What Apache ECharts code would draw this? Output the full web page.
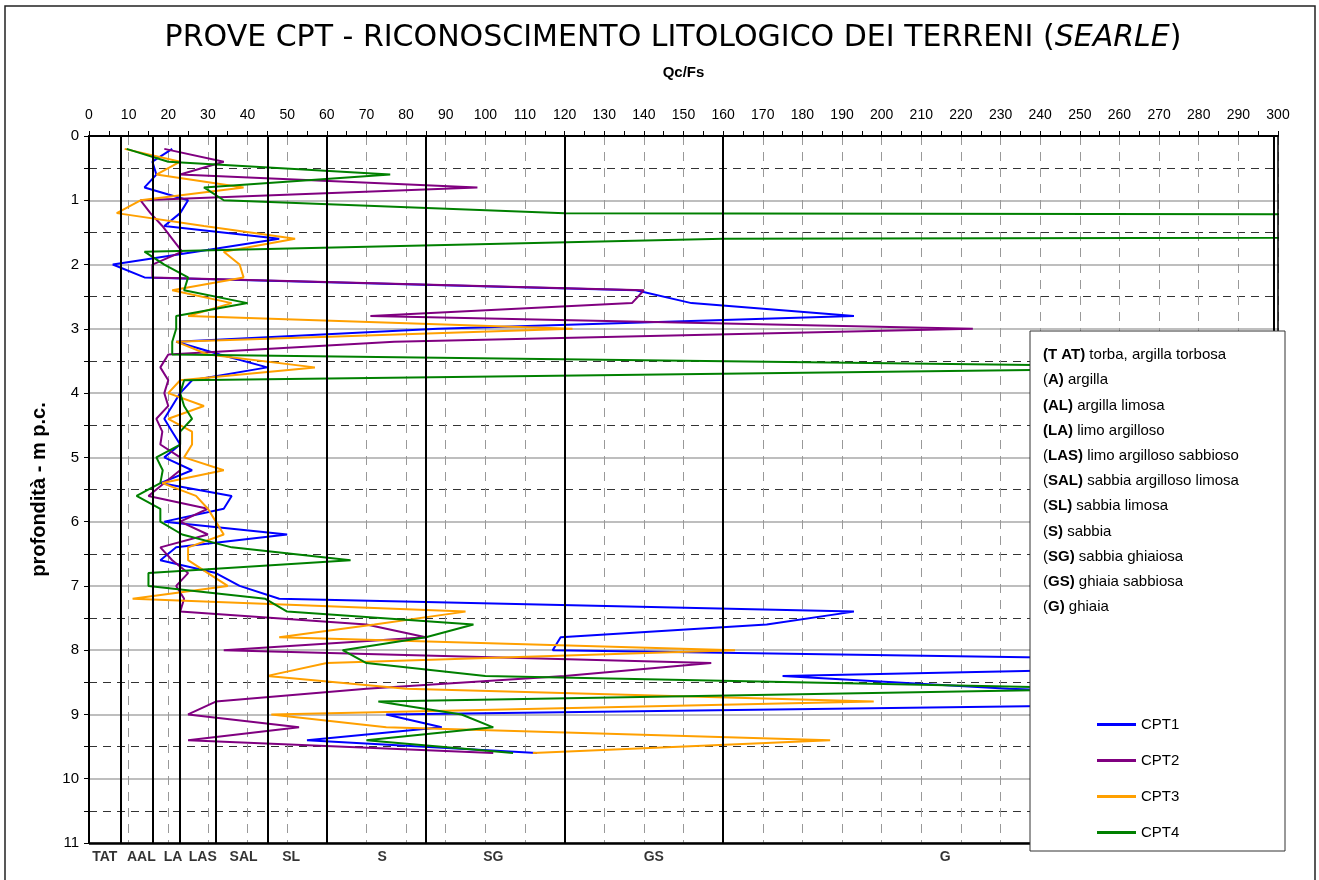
<!DOCTYPE html>
<html>
<head>
<meta charset="utf-8">
<title>Prove CPT - Searle</title>
<script src="https://cdn.jsdelivr.net/npm/echarts@6.0.0/dist/echarts.min.js"></script>
<style>
html, body { margin: 0; padding: 0; background: #fff; }
#chartmain { width: 1319px; height: 880px; }
</style>
</head>
<body>
<div id="chartmain"></div>
<script>
// profondità di lettura (m p.c.)
var depth = [0.2, 0.4, 0.6, 0.8, 1.0, 1.2, 1.4, 1.6, 1.8, 2.0,
             2.2, 2.4, 2.6, 2.8, 3.0, 3.2, 3.4, 3.6, 3.8, 4.0,
             4.2, 4.4, 4.6, 4.8, 5.0, 5.2, 5.4, 5.6, 5.8, 6.0,
             6.2, 6.4, 6.6, 6.8, 7.0, 7.2, 7.4, 7.6, 7.8, 8.0,
             8.2, 8.4, 8.6, 8.8, 9.0, 9.2, 9.4, 9.6];

// rapporto Qc/Fs per ogni prova
var cpt1 = [21, 16, 17, 14, 25, 23, 19, 48, 27, 6,
            14, 138, 152, 193, 88, 22, 33, 45, 26, 23,
            21, 19, 21, 23, 19, 26, 18, 36, 34, 19,
            50, 22, 18, 32, 38, 48, 193, 171, 119, 117,
            335, 175, 232, 330, 75, 89, 55, 113];
var cpt2 = [19, 34, 23, 98, 13, 15.5, 18.5, 21, 23.5, 16,
            16, 140, 137, 71, 223, 77, 20, 18, 20, 19,
            20, 17, 18.5, 18, 23, 23, 19, 15, 30, 23,
            30, 18, 21, 25, 22, 24, 23, 70, 85, 34,
            157, 120, 70, 32, 25, 53, 25, 102];
var cpt3 = [9, 23, 17, 39, 13, 7, 29, 52, 34, 38,
            39, 21, 36, 25, 122, 22, 30, 57, 23, 20,
            29, 20, 26, 26, 24, 34, 18.5, 27, 30, 32,
            34, 25, 25, 30, 35, 11, 95, 72, 48, 163,
            60, 45, 80, 198, 46, 75, 187, 112];
var cpt4 = [9.5, 20, 76, 29, 34, 120, 2000, 160, 14, 19,
            25, 24, 40, 22, 22, 21, 21, 290, 24, 23,
            24, 26, 23, 23, 17, 18.6, 18, 12, 18, 18,
            23.5, 36, 66, 15, 15, 44.5, 50, 97, 85, 64,
            70, 100, 260, 73, 94, 102, 70, 107];

// limiti delle classi litologiche (Searle) e sigle
var zoneBounds = [8, 16, 23, 32, 45, 60, 85, 120, 160, 299];
var zoneNames = ['TAT', 'AAL', 'LA', 'LAS', 'SAL', 'SL', 'S', 'SG', 'GS', 'G'];
var zoneMid = [4, 13.2, 21.2, 28.7, 39, 51, 74, 102, 142.5, 216];

var legendRows = [
  '{b|(T AT)} torba, argilla torbosa',
  '({b|A)} argilla',
  '{b|(AL)} argilla limosa',
  '{b|(LA)} limo argilloso',
  '({b|LAS)} limo argilloso sabbioso',
  '({b|SAL)} sabbia argilloso limosa',
  '({b|SL)} sabbia limosa',
  '({b|S)} sabbia',
  '({b|SG)} sabbia ghiaiosa',
  '({b|GS)} ghiaia sabbiosa',
  '({b|G)} ghiaia'
];

var sans = "'Liberation Sans', Arial, sans-serif";

function pairs(vals) {
  return depth.map(function (d, i) { return [vals[i], d]; });
}

function cptSeries(name, vals, color) {
  return {
    name: name,
    type: 'line',
    data: pairs(vals),
    symbol: 'none',
    lineStyle: { color: color, width: 2 },
    itemStyle: { color: color },
    clip: true,
    z: 3,
    silent: true
  };
}

var chart = echarts.init(document.getElementById('chartmain'));

var graphics = [
  {
    type: 'rect', z: 0,
    shape: { x: 5, y: 6, width: 1310, height: 890 },
    style: { fill: 'none', stroke: '#222', lineWidth: 1.5 }
  },
  {
    type: 'text', z: 50,
    style: {
      x: 673, y: 38,
      text: '{a|PROVE CPT - RICONOSCIMENTO LITOLOGICO DEI TERRENI (}{i|SEARLE}{a|)}',
      align: 'center', verticalAlign: 'middle',
      rich: {
        a: { fontFamily: "'DejaVu Sans', sans-serif", fontSize: 30, fill: '#000' },
        i: { fontFamily: "'DejaVu Sans', sans-serif", fontSize: 30, fontStyle: 'italic', fill: '#000' }
      }
    }
  },
  {
    type: 'rect', z: 100,
    shape: { x: 1030, y: 331, width: 255, height: 520 },
    style: { fill: '#fff', stroke: '#333', lineWidth: 1 }
  }
];

legendRows.forEach(function (t, i) {
  graphics.push({
    type: 'text', z: 101,
    style: {
      x: 1043, y: 355 + i * 25.2,
      text: t,
      verticalAlign: 'middle',
      fontFamily: sans, fontSize: 15, fill: '#000',
      rich: { b: { fontFamily: sans, fontSize: 15, fontWeight: 'bold', fill: '#000' } }
    }
  });
});

chart.setOption({
  animation: false,
  backgroundColor: '#fff',
  graphic: graphics,
  legend: {
    data: ['CPT1', 'CPT2', 'CPT3', 'CPT4'],
    orient: 'vertical',
    left: 1092,
    top: 712,
    icon: 'rect',
    itemWidth: 39,
    itemHeight: 3,
    itemGap: 21,
    z: 200,
    textStyle: { fontFamily: sans, fontSize: 15, color: '#000' }
  },
  grid: { left: 89, top: 136, width: 1189, height: 707, show: false },
  xAxis: {
    type: 'value',
    position: 'top',
    min: 0, max: 300, interval: 10,
    name: 'Qc/Fs',
    nameLocation: 'middle',
    nameGap: 56,
    nameTextStyle: { fontFamily: sans, fontSize: 15, fontWeight: 'bold', color: '#000' },
    axisLine: { show: true, lineStyle: { color: '#000', width: 2 } },
    axisTick: { show: true, length: 5, lineStyle: { color: '#000' } },
    minorTick: { show: true, splitNumber: 2, length: 5, lineStyle: { color: '#000' } },
    axisLabel: { fontFamily: sans, fontSize: 14, color: '#000', margin: 14 },
    splitLine: { show: true, lineStyle: { color: '#999', width: 1, type: [9, 7] } }
  },
  yAxis: {
    type: 'value',
    inverse: true,
    min: 0, max: 11, interval: 1,
    name: 'profondità - m p.c.',
    nameLocation: 'middle',
    nameGap: 40,
    nameRotate: 90,
    nameTextStyle: { fontFamily: sans, fontSize: 20, fontWeight: 'bold', color: '#000' },
    axisLine: { show: true, lineStyle: { color: '#000', width: 2 } },
    axisTick: { show: true, length: 5, lineStyle: { color: '#000' } },
    minorTick: { show: true, splitNumber: 2, length: 5, lineStyle: { color: '#000' } },
    axisLabel: { fontFamily: sans, fontSize: 15, color: '#000', margin: 10 },
    splitLine: { show: true, lineStyle: { color: '#a8a8a8', width: 1.5 } },
    minorSplitLine: { show: true, lineStyle: { color: '#333', width: 1.2, type: [8, 6] } }
  },
  series: [
    {
      name: 'zone',
      type: 'scatter',
      data: zoneMid.map(function (m, i) { return { value: [m, 11], name: zoneNames[i] }; }),
      symbolSize: 0,
      clip: false,
      silent: true,
      z: 1,
      label: {
        show: true,
        position: 'bottom',
        distance: 7,
        formatter: '{b}',
        fontFamily: sans,
        fontSize: 14,
        fontWeight: 'bold',
        color: '#000'
      },
      markLine: {
        silent: true,
        symbol: ['none', 'none'],
        label: { show: false },
        lineStyle: { color: '#000', width: 2, type: 'solid' },
        data: zoneBounds.map(function (v) { return { xAxis: v }; })
          .concat([{ xAxis: 300, lineStyle: { width: 1.5 } }, { yAxis: 11, lineStyle: { width: 2.5 } }])
      }
    },
    cptSeries('CPT1', cpt1, '#0000ff'),
    cptSeries('CPT2', cpt2, '#800080'),
    cptSeries('CPT3', cpt3, '#ffa000'),
    cptSeries('CPT4', cpt4, '#008000')
  ]
});
</script>
</body>
</html>
